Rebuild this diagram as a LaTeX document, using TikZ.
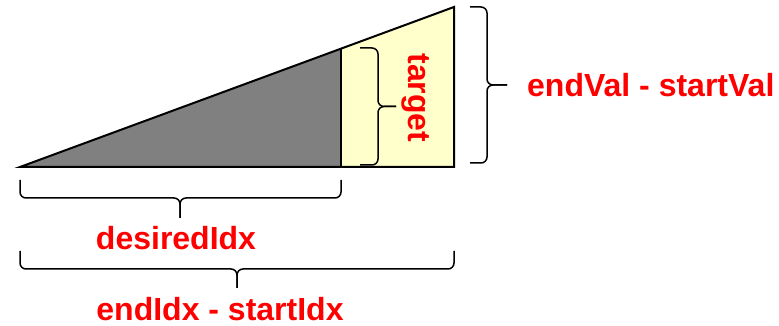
\documentclass[tikz,border=0pt]{standalone}
\usepackage{fontspec}
\setmainfont{Liberation Sans}
\definecolor{lightyel}{HTML}{FFFFCC}
\definecolor{lblred}{HTML}{FF0000}
\begin{document}
\begin{tikzpicture}[x=1pt,y=1pt,
  edge/.style={line width=2pt,line join=miter},
  bracestyle/.style={line width=1.5pt,rounded corners=6pt},
  lbl/.style={text=lblred,font=\fontsize{32}{32}\selectfont\bfseries,inner sep=0pt}]
\useasboundingbox (0,0) rectangle (779,326);
% corner points
\coordinate (A) at (20,159);
\coordinate (B) at (341,159);
\coordinate (C) at (341,277.5);
\coordinate (D) at (454,159);
\coordinate (E) at (454,319);
% fills
\fill[lightyel] (B) -- (D) -- (E) -- (C) -- cycle;
\fill[gray] (A) -- (B) -- (C) -- cycle;
% outlines
\draw[edge] (A) -- (D) -- (E) -- cycle;
\draw[edge] (B) -- (C);
% target brace (tip right)
\coordinate (t1) at (360,278);
\coordinate (t2) at (360,161);
\coordinate (tt) at (396,219.5);
\draw[bracestyle] (t1) -- (378,278) -- (378,219.5) -- (tt);
\draw[bracestyle] (t2) -- (378,161) -- (378,219.5) -- (tt);
% value brace (tip right)
\coordinate (r1) at (470,319);
\coordinate (r2) at (470,163);
\coordinate (rt) at (507,241);
\draw[bracestyle] (r1) -- (487,319) -- (487,241) -- (rt);
\draw[bracestyle] (r2) -- (487,163) -- (487,241) -- (rt);
% desired brace (tip down)
\coordinate (b1) at (20,146);
\coordinate (b2) at (341,146);
\coordinate (bt) at (180,108);
\draw[bracestyle] (b1) -- (20,128) -- (180,128) -- (bt);
\draw[bracestyle] (b2) -- (341,128) -- (180,128) -- (bt);
% index brace (tip down)
\coordinate (c1) at (20,75);
\coordinate (c2) at (454,75);
\coordinate (ct) at (237,38);
\draw[bracestyle] (c1) -- (20,57) -- (237,57) -- (ct);
\draw[bracestyle] (c2) -- (454,57) -- (237,57) -- (ct);
% labels
\node[lbl,rotate=-90] (target) at (416,228) {target};
\node[lbl,anchor=west] (range) at (527,241) {endVal - startVal};
\node[lbl] (desired) at (176,88) {desiredIdx};
\node[lbl] (idx) at (220,17) {endIdx - startIdx};
\end{tikzpicture}
\end{document}
